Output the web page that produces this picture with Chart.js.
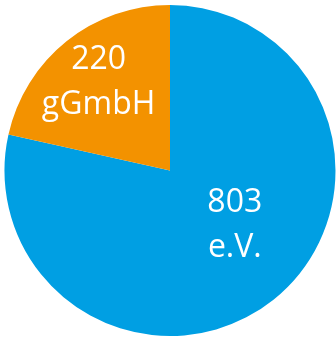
<!DOCTYPE html>
<html>
<head>
<meta charset="utf-8">
<script src="https://cdn.jsdelivr.net/npm/chart.js@4"></script>
<style>
  html, body { margin: 0; padding: 0; background: #fff; }
</style>
</head>
<body>
<canvas id="pieCanvas" width="336" height="340"></canvas>
<script>
const labels = ["e.V.", "gGmbH"];
const values = [803, 220];
const colors = ["#009fe3", "#f39200"];

// labels sit inside each slice, value on top and name below
const sliceLabels = {
  id: "sliceLabels",
  afterDatasetsDraw(chart, args, opts) {
    const ctx = chart.ctx;
    const meta = chart.getDatasetMeta(0);
    meta.data.forEach((arc, i) => {
      const p = arc.getProps(["x", "y", "startAngle", "endAngle", "outerRadius"], true);
      const mid = (p.startAngle + p.endAngle) / 2 + opts.angleShift[i];
      const r = p.outerRadius * opts.radius[i];
      const x = p.x + Math.cos(mid) * r;
      const y = p.y + Math.sin(mid) * r;
      ctx.save();
      ctx.fillStyle = "#fff";
      ctx.textAlign = "center";
      ctx.textBaseline = "middle";
      ctx.font = "32px 'Open Sans'";
      ctx.fillText(values[i], x, y - 22);
      ctx.fillText(labels[i], x, y + 23);
      ctx.restore();
    });
  }
};

new Chart(document.getElementById("pieCanvas"), {
  type: "pie",
  data: {
    labels: labels,
    datasets: [{
      data: values,
      backgroundColor: colors,
      borderWidth: 0,
    }]
  },
  options: {
    responsive: false,
    animation: false,
    layout: { padding: { left: 4, right: 0, top: 5, bottom: 4 } },
    plugins: {
      legend: { display: false },
      tooltip: { enabled: false },
      sliceLabels: { radius: [0.51, 0.69], angleShift: [-0.2, 0] }
    }
  },
  plugins: [sliceLabels]
});
</script>
</body>
</html>
